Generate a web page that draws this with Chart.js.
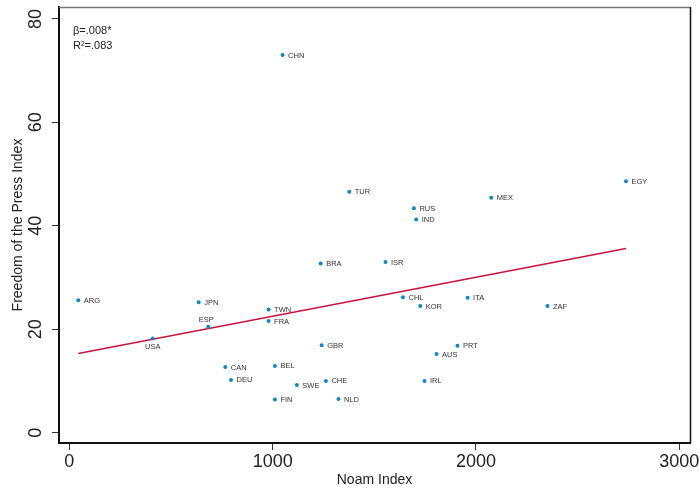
<!DOCTYPE html>
<html>
<head>
<meta charset="utf-8">
<script src="https://cdn.jsdelivr.net/npm/chart.js"></script>
<style>
  html, body { margin: 0; padding: 0; background: #fff; }
  #wrap { width: 699px; height: 491px; }
</style>
</head>
<body>
<div id="wrap"><canvas id="scatter" width="699" height="491"></canvas></div>
<script>
// values
const countries  = ['CHN','TUR','EGY','MEX','RUS','IND','BRA','ISR','ARG','JPN','TWN','FRA','ESP','USA',
                    'CHL','ITA','KOR','ZAF','GBR','PRT','AUS','CAN','BEL','DEU','SWE','CHE','IRL','FIN','NLD'];
const noamIndex  = [1049, 1377, 2738, 2075, 1695, 1706, 1236, 1555,   44,  636,  980,  980,  683,  410,
                    1641, 1959, 1726, 2352, 1241, 1909, 1806,  767, 1011,  795, 1119, 1262, 1747, 1011, 1324];
const pressIndex = [73.0, 46.6, 48.6, 45.4, 43.4, 41.2, 32.7, 33.0, 25.6, 25.2, 23.8, 21.6, 20.5, 18.2,
                    26.2, 26.1, 24.5, 24.5, 16.9, 16.8, 15.2, 12.7, 12.9, 10.2,  9.2, 10.0, 10.0,  6.4,  6.5];
const fitX = [44, 2738];
const fitY = [15.3, 35.6];
const xTicks = [0, 1000, 2000, 3000];
const yTicks = [0, 20, 40, 60, 80];
const noteLines = ['β=.008*', 'R²=.083'];
const labelSide = { ESP: 'above', USA: 'below' };

const FONT = '"Liberation Sans", Arial, Helvetica, sans-serif';

const pointLabels = {
  id: 'pointLabels',
  afterDatasetsDraw(chart) {
    const ctx = chart.ctx;
    const meta = chart.getDatasetMeta(0);
    ctx.save();
    ctx.font = '7.5px ' + FONT;
    ctx.fillStyle = '#333';
    meta.data.forEach((pt, i) => {
      const name = countries[i];
      const side = labelSide[name];
      if (side === 'above') {
        ctx.textAlign = 'center'; ctx.textBaseline = 'middle';
        ctx.fillText(name, pt.x - 2, pt.y - 7);
      } else if (side === 'below') {
        ctx.textAlign = 'center'; ctx.textBaseline = 'middle';
        ctx.fillText(name, pt.x, pt.y + 8);
      } else {
        ctx.textAlign = 'left'; ctx.textBaseline = 'middle';
        ctx.fillText(name, pt.x + 5.5, pt.y + 0.5);
      }
    });
    ctx.restore();
  },
  afterDraw(chart) {
    const ctx = chart.ctx;
    const a = chart.chartArea;
    ctx.save();
    // top and right edges of the box
    ctx.strokeStyle = '#777';
    ctx.lineWidth = 1.5;
    ctx.beginPath();
    ctx.moveTo(a.left, a.top + 0.5);
    ctx.lineTo(a.right, a.top + 0.5);
    ctx.stroke();
    ctx.strokeStyle = '#111';
    ctx.beginPath();
    ctx.moveTo(a.right + 0.5, a.top);
    ctx.lineTo(a.right + 0.5, a.bottom);
    ctx.stroke();
    // coefficient note
    ctx.font = '11px ' + FONT;
    ctx.fillStyle = '#222';
    ctx.textAlign = 'left';
    ctx.textBaseline = 'middle';
    noteLines.forEach((t, i) => ctx.fillText(t, a.left + 14, a.top + 24 + i * 15));
    ctx.restore();
  }
};

new Chart(document.getElementById('scatter'), {
  type: 'scatter',
  data: {
    datasets: [{
      data: noamIndex.map((x, i) => ({ x: x, y: pressIndex[i] })),
      backgroundColor: '#0a8bc7',
      borderColor: '#0a8bc7',
      pointRadius: 2,
      borderWidth: 0
    }, {
      type: 'line',
      data: fitX.map((x, i) => ({ x: x, y: fitY[i] })),
      borderColor: '#c8143f',
      borderWidth: 1.6,
      pointRadius: 0,
      fill: false
    }]
  },
  options: {
    responsive: false,
    animation: false,
    layout: { padding: { top: 7, right: 9, left: 0, bottom: 0 } },
    plugins: { legend: { display: false }, tooltip: { enabled: false } },
    scales: {
      x: {
        type: 'linear',
        min: -51, max: 3053,
        afterBuildTicks: s => { s.ticks = xTicks.map(v => ({ value: v })); },
        afterFit: s => { s.height = 48; s.paddingLeft = 0; s.paddingRight = 0; },
        grid: { drawOnChartArea: false, drawTicks: true, tickLength: 7, color: '#333' },
        border: { display: true, width: 2, color: '#111' },
        ticks: { color: '#222', font: { family: FONT, size: 18 }, padding: 1, maxRotation: 0,
                 callback: v => String(v) },
        title: { display: true, text: 'Noam Index', color: '#222', font: { family: FONT, size: 14 }, padding: { top: 0, bottom: 2 } }
      },
      y: {
        type: 'linear',
        min: -2, max: 82.3,
        afterBuildTicks: s => { s.ticks = yTicks.map(v => ({ value: v })); },
        afterFit: s => { s.width = 59; s.paddingTop = 0; s.paddingBottom = 0; },
        grid: { drawOnChartArea: false, drawTicks: true, tickLength: 7, color: '#333' },
        border: { display: true, width: 2, color: '#111' },
        ticks: { color: '#222', font: { family: FONT, size: 18 }, padding: 6, minRotation: 90, maxRotation: 90,
                 crossAlign: 'center', callback: v => String(v) },
        title: { display: true, text: 'Freedom of the Press Index', color: '#222', font: { family: FONT, size: 14 }, padding: { top: 10, bottom: 0 } }
      }
    }
  },
  plugins: [pointLabels]
});
</script>
</body>
</html>
